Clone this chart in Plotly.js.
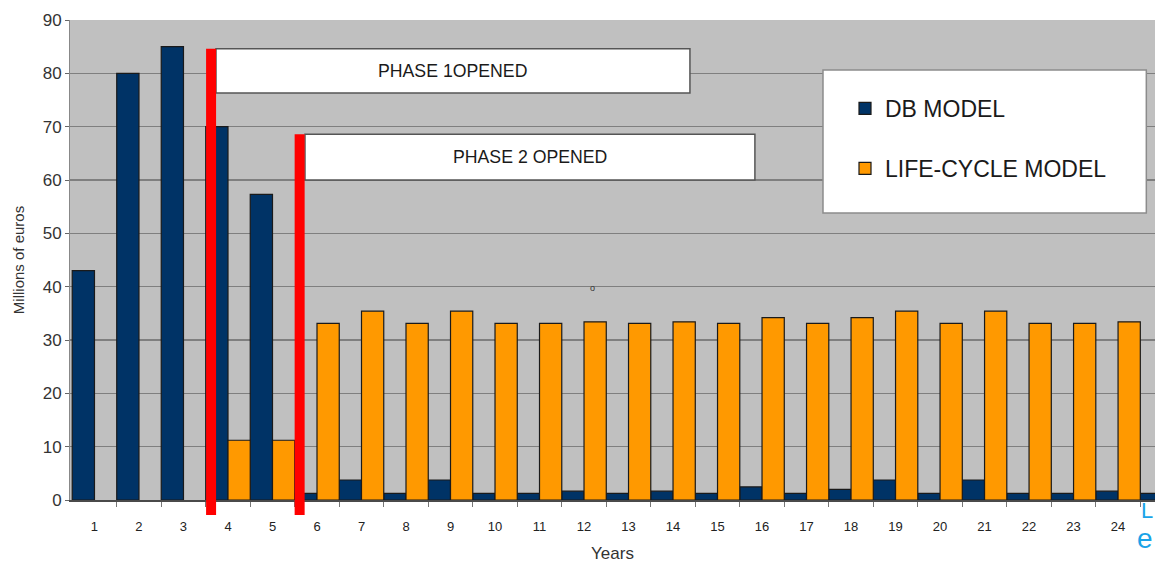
<!DOCTYPE html>
<html>
<head>
<meta charset="utf-8">
<script src="https://cdn.plot.ly/plotly-3.0.1.min.js"></script>
<style>
  html, body { margin: 0; padding: 0; background: #ffffff; }
  #chart { width: 1155px; height: 563px; }
</style>
</head>
<body>
<div id="chart"></div>
<script>
// ---- data ----
const years = [1, 2, 3, 4, 5, 6, 7, 8, 9, 10, 11, 12, 13, 14, 15, 16, 17, 18, 19, 20, 21, 22, 23, 24, 25];
const tickYears = [1, 2, 3, 4, 5, 6, 7, 8, 9, 10, 11, 12, 13, 14, 15, 16, 17, 18, 19, 20, 21, 22, 23, 24];
const tickLabels = ["1", "2", "3", "4", "5", "6", "7", "8", "9", "10", "11", "12", "13", "14", "15", "16", "17", "18", "19", "20", "21", "22", "23", "24"];
const dbModel = [43, 80, 85, 70, 57.3, 1.25, 3.75, 1.25, 3.75, 1.25, 1.25, 1.65, 1.25, 1.65, 1.25, 2.45, 1.25, 2.0, 3.75, 1.25, 3.75, 1.25, 1.25, 1.65, 1.25];
const lifeCycleModel = [null, null, null, 11.2, 11.2, 33.1, 35.4, 33.1, 35.4, 33.1, 33.1, 33.4, 33.1, 33.4, 33.1, 34.2, 33.1, 34.2, 35.4, 33.1, 35.4, 33.1, 33.1, 33.4, null];
const seriesNames = ["DB MODEL", "LIFE-CYCLE MODEL"];
const yTicks = [0, 10, 20, 30, 40, 50, 60, 70, 80, 90];
// phase markers: year position of the red line and label box
const phaseLabels = ["PHASE 1OPENED", "PHASE 2 OPENED"];
const phaseLineX = [3.62, 5.61];
const phaseTopY = [84.6, 68.6];
const phaseBoxX = [[3.73, 14.38], [5.73, 15.84]];
const phaseBoxBottomY = [76.3, 60.0];

const minorTicks = [];
for (let i = 0; i < years.length; i++) minorTicks.push(years[i] + 0.5);

const FONT = "Liberation Sans, Arial, sans-serif";
const Y_MAX = 90;
const LINE_BOTTOM = -0.031; // red markers run a little below the axis (paper units)

const traces = [
  {
    type: "bar", name: seriesNames[0], x: years, y: dbModel,
    legendgroup: "a",
    marker: { color: "#003366", line: { color: "#1a1a1a", width: 1.2 } },
    hoverinfo: "x+y+name"
  },
  {
    type: "bar", name: seriesNames[1], x: years, y: lifeCycleModel,
    legendgroup: "b",
    marker: { color: "#ff9900", line: { color: "#1a1a1a", width: 1.2 } },
    hoverinfo: "x+y+name"
  }
];

const shapes = [];
const annotations = [];
// legend frame
shapes.push({
  type: "rect", xref: "paper", yref: "paper",
  x0: 0.694, x1: 0.992, y0: 0.598, y1: 0.896,
  fillcolor: "#ffffff", line: { color: "#8c8c8c", width: 1.5 }, layer: "above"
});
for (let i = 0; i < phaseLabels.length; i++) {
  shapes.push({
    type: "rect", xref: "x", yref: "y",
    x0: phaseBoxX[i][0], x1: phaseBoxX[i][1], y0: phaseBoxBottomY[i], y1: phaseTopY[i],
    fillcolor: "#ffffff", line: { color: "#555555", width: 1.5 }, layer: "above"
  });
  annotations.push({
    xref: "x", yref: "y",
    x: (phaseBoxX[i][0] + phaseBoxX[i][1]) / 2,
    y: (phaseBoxBottomY[i] + phaseTopY[i]) / 2,
    text: phaseLabels[i], showarrow: false,
    font: { family: FONT, size: 17.7, color: "#1a1a1a" }
  });
}
for (let i = 0; i < phaseLineX.length; i++) {
  shapes.push({
    type: "line", xref: "x", yref: "paper",
    x0: phaseLineX[i], x1: phaseLineX[i], y0: LINE_BOTTOM, y1: phaseTopY[i] / Y_MAX,
    line: { color: "#ff0000", width: 10 }, layer: "above"
  });
}
// small stray mark and the cut-off logo letters
annotations.push({ xref: "x", yref: "y", x: 12.2, y: 39.7, text: "o", showarrow: false,
  font: { family: FONT, size: 9, color: "#333333" } });
annotations.push({ xref: "paper", yref: "paper", x: 1, y: (500 - 496) / 480,
  xanchor: "right", yanchor: "top", text: "L", showarrow: false,
  font: { family: FONT, size: 22, color: "#1aa3e8" } });
annotations.push({ xref: "paper", yref: "paper", x: 1, y: (500 - 521) / 480,
  xanchor: "right", yanchor: "top", text: "e", showarrow: false,
  font: { family: FONT, size: 28, color: "#1aa3e8" } });

const layout = {
  width: 1155, height: 563,
  margin: { l: 70, r: 0, t: 20, b: 63 },
  paper_bgcolor: "#ffffff",
  plot_bgcolor: "#c0c0c0",
  barmode: "group", bargap: 0, bargroupgap: 0,
  font: { family: FONT, color: "#222222" },
  showlegend: true,
  legend: {
    x: (845 - 70) / 1085, y: (500 - 87) / 480, xanchor: "left", yanchor: "top",
    bgcolor: "rgba(0,0,0,0)", borderwidth: 0,
    font: { family: FONT, size: 23, color: "#1a1a1a" },
    tracegroupgap: 27, traceorder: "grouped", itemwidth: 30
  },
  xaxis: {
    type: "linear", range: [0.45, 24.83],
    tickmode: "array", tickvals: tickYears, ticktext: tickLabels,
    ticks: "outside", ticklen: 14, tickcolor: "rgba(0,0,0,0)",
    tickfont: { family: FONT, size: 13, color: "#222222" },
    showgrid: false, zeroline: false,
    showline: true, linecolor: "#4a4a4a", linewidth: 1.5,
    minor: { tickmode: "array", tickvals: minorTicks, ticks: "outside", ticklen: 5, tickcolor: "#777777", showgrid: false },
    title: { text: "Years", font: { family: FONT, size: 17, color: "#333333" }, standoff: 14 },
    fixedrange: true
  },
  yaxis: {
    range: [0, Y_MAX], tickmode: "array", tickvals: yTicks,
    ticks: "outside", ticklen: 4, tickcolor: "#666666",
    tickfont: { family: FONT, size: 17, color: "#333333" },
    showgrid: true, gridcolor: "#7f7f7f", gridwidth: 1.3,
    zeroline: false, showline: true, linecolor: "#888888", linewidth: 1,
    title: { text: "Millions of euros", font: { family: FONT, size: 15, color: "#333333" }, standoff: 14 },
    fixedrange: true
  },
  shapes: shapes,
  annotations: annotations
};

Plotly.newPlot("chart", traces, layout, { displayModeBar: false, staticPlot: true });
</script>
</body>
</html>
